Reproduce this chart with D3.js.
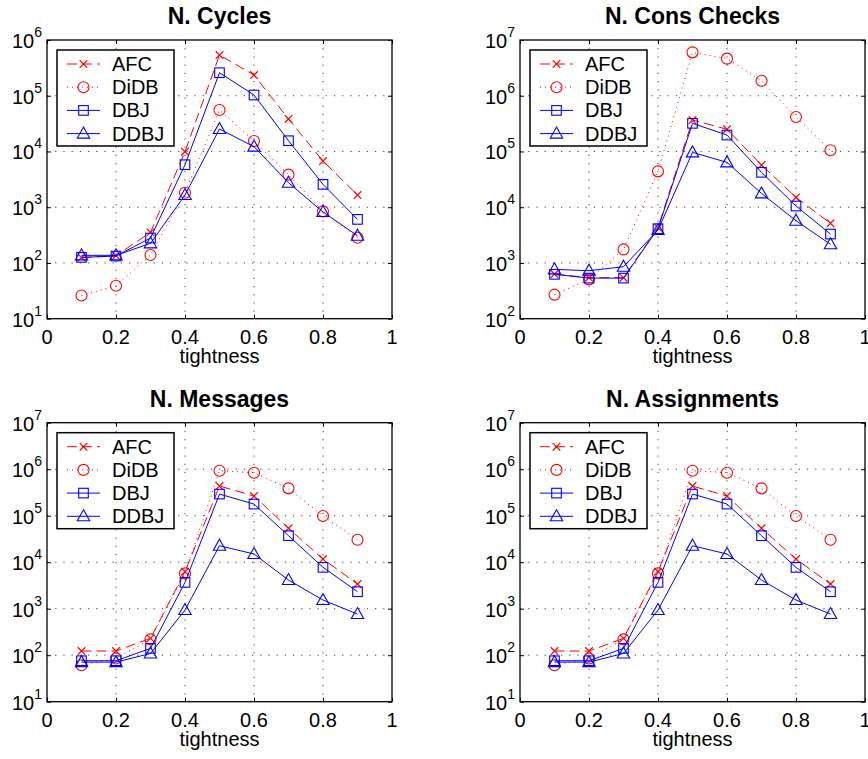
<!DOCTYPE html>
<html>
<head>
<meta charset="utf-8">
<script src="https://cdn.jsdelivr.net/npm/d3@7"></script>
<style>
  body { margin: 0; background: #fff; }
  text { font-family: "Liberation Sans", Arial, Helvetica, sans-serif; fill: #000; }
</style>
</head>
<body>
<svg id="chart" width="868" height="759"></svg>
<script>
// x values (tightness) shared by all panels
var tightness = [0.1, 0.2, 0.3, 0.4, 0.5, 0.6, 0.7, 0.8, 0.9];
var xTicks = [0, 0.2, 0.4, 0.6, 0.8, 1];
var seriesNames = ["AFC", "DiDB", "DBJ", "DDBJ"];

// N. Cycles
var cyclesAFC  = [125, 135, 354, 9900, 538000, 235000, 38300, 6740, 1655];
var cyclesDiDB = [26, 39, 139, 1820, 55500, 15400, 3840, 843, 284];
var cyclesDBJ  = [126, 133, 280, 5790, 259000, 103000, 15600, 2570, 605];
var cyclesDDBJ = [137, 137, 225, 1655, 25300, 12200, 2750, 820, 308];

// N. Cons Checks
var consAFC  = [632, 545, 545, 4300, 367000, 250000, 57100, 15000, 5140];
var consDiDB = [270, 508, 1750, 44000, 6000000, 4630000, 1860000, 415000, 105000];
var consDBJ  = [625, 535, 535, 4120, 320000, 197000, 42300, 10500, 3300];
var consDDBJ = [768, 726, 857, 3900, 96400, 63800, 17700, 5730, 2160];

// N. Messages
var msgAFC  = [123, 123, 230, 6250, 434000, 265000, 53500, 11700, 3390];
var msgDiDB = [61, 85, 219, 5750, 929000, 841000, 387000, 98400, 30500];
var msgDBJ  = [76, 76, 140, 3680, 292000, 178000, 37200, 7740, 2320];
var msgDDBJ = [71, 71, 109, 935, 22600, 15000, 4130, 1535, 767];

// N. Assignments
var asgAFC  = [123, 123, 230, 6250, 434000, 265000, 53500, 11700, 3390];
var asgDiDB = [61, 85, 219, 5750, 929000, 841000, 387000, 98400, 30500];
var asgDBJ  = [76, 76, 140, 3680, 292000, 178000, 37200, 7740, 2320];
var asgDDBJ = [71, 71, 109, 935, 22600, 15000, 4130, 1535, 767];

var panels = [
  { title: "N. Cycles",      lo: 1, hi: 6, values: [cyclesAFC, cyclesDiDB, cyclesDBJ, cyclesDDBJ] },
  { title: "N. Cons Checks", lo: 2, hi: 7, values: [consAFC, consDiDB, consDBJ, consDDBJ] },
  { title: "N. Messages",    lo: 1, hi: 7, values: [msgAFC, msgDiDB, msgDBJ, msgDDBJ] },
  { title: "N. Assignments", lo: 1, hi: 7, values: [asgAFC, asgDiDB, asgDBJ, asgDDBJ] }
];

// axes boxes in page pixels
var frames = [
  { left: 47,  top: 40,    width: 345, height: 278.7 },
  { left: 520, top: 40,    width: 345, height: 278.7 },
  { left: 47,  top: 422.7, width: 345, height: 279 },
  { left: 520, top: 422.7, width: 345, height: 279 }
];

var styles = [
  { color: "#ff0000", dash: "10,5", marker: "x" },
  { color: "#ff0000", dash: "1,4",  marker: "circle" },
  { color: "#0000ff", dash: null,   marker: "square" },
  { color: "#0000ff", dash: null,   marker: "triangle" }
];

var svg = d3.select("#chart");
svg.append("rect").attr("width", 868).attr("height", 759).attr("fill", "#fff");

function drawMarker(g, kind, cx, cy, color) {
  if (kind == "x") {
    var s = 3.8;
    g.append("path")
      .attr("d", "M" + (cx - s) + "," + (cy - s) + "L" + (cx + s) + "," + (cy + s) +
                 "M" + (cx - s) + "," + (cy + s) + "L" + (cx + s) + "," + (cy - s))
      .attr("stroke", color).attr("stroke-width", 1.2).attr("fill", "none");
  } else if (kind == "circle") {
    g.append("circle").attr("cx", cx).attr("cy", cy).attr("r", 5.5)
      .attr("stroke", color).attr("stroke-width", 1.1).attr("fill", "none");
  } else if (kind == "square") {
    g.append("rect").attr("x", cx - 4.8).attr("y", cy - 4.8).attr("width", 9.6).attr("height", 9.6)
      .attr("stroke", color).attr("stroke-width", 1.1).attr("fill", "none");
  } else {
    g.append("path")
      .attr("d", "M" + cx + "," + (cy - 6.5) + "L" + (cx + 6.2) + "," + (cy + 4.5) +
                 "L" + (cx - 6.2) + "," + (cy + 4.5) + "Z")
      .attr("stroke", color).attr("stroke-width", 1.1).attr("fill", "none");
  }
}

function drawPanel(p, f) {
  var g = svg.append("g");
  var x = d3.scaleLinear().domain([0, 1]).range([f.left, f.left + f.width]);
  var y = d3.scaleLog().domain([Math.pow(10, p.lo), Math.pow(10, p.hi)])
            .range([f.top + f.height, f.top]);
  var decades = d3.range(p.lo, p.hi + 1).map(function (e) { return Math.pow(10, e); });

  // dotted grid
  g.selectAll(".gx").data(xTicks.slice(1, -1)).enter().append("line")
    .attr("x1", function (d) { return x(d); }).attr("x2", function (d) { return x(d); })
    .attr("y1", f.top).attr("y2", f.top + f.height)
    .attr("stroke", "#444").attr("stroke-width", 1).attr("stroke-dasharray", "1.2,7");
  g.selectAll(".gy").data(decades.slice(1, -1)).enter().append("line")
    .attr("x1", f.left).attr("x2", f.left + f.width)
    .attr("y1", function (d) { return y(d); }).attr("y2", function (d) { return y(d); })
    .attr("stroke", "#444").attr("stroke-width", 1).attr("stroke-dasharray", "1.2,7");

  // inward ticks on all four sides
  var axes = [
    { ax: d3.axisBottom(x).tickValues(xTicks), t: "translate(0," + (f.top + f.height) + ")" },
    { ax: d3.axisTop(x).tickValues(xTicks),    t: "translate(0," + f.top + ")" },
    { ax: d3.axisLeft(y).tickValues(decades),  t: "translate(" + f.left + ",0)" },
    { ax: d3.axisRight(y).tickValues(decades), t: "translate(" + (f.left + f.width) + ",0)" }
  ];
  axes.forEach(function (a) {
    var ag = g.append("g").attr("transform", a.t)
      .call(a.ax.tickSize(-4).tickFormat(""));
    ag.select(".domain").remove();
    ag.selectAll("line").attr("stroke", "#000");
  });

  // frame
  g.append("rect").attr("x", f.left).attr("y", f.top).attr("width", f.width).attr("height", f.height)
    .attr("fill", "none").attr("stroke", "#000").attr("stroke-width", 1.3);

  // x tick labels
  g.selectAll(".xl").data(xTicks).enter().append("text")
    .attr("x", function (d) { return x(d); })
    .attr("y", f.top + f.height + 25)
    .attr("text-anchor", "middle").attr("font-size", 20)
    .text(function (d) { return d; });

  // y tick labels 10^n
  g.selectAll(".yl").data(d3.range(p.lo, p.hi + 1)).enter().append("text")
    .attr("x", f.left - 5)
    .attr("y", function (d) { return y(Math.pow(10, d)) + 8; })
    .attr("text-anchor", "end").attr("font-size", 20)
    .each(function (d) {
      var t = d3.select(this);
      t.append("tspan").text("10");
      t.append("tspan").attr("dy", -11).attr("font-size", 14).text(d);
    });

  // x label and title
  g.append("text").attr("x", f.left + f.width / 2).attr("y", f.top + f.height + 44)
    .attr("text-anchor", "middle").attr("font-size", 20).text("tightness");
  g.append("text").attr("x", f.left + f.width / 2).attr("y", f.top - 16)
    .attr("text-anchor", "middle").attr("font-size", 23).attr("font-weight", "bold")
    .text(p.title);

  // series
  var line = d3.line()
    .x(function (d) { return x(d[0]); })
    .y(function (d) { return y(d[1]); });
  p.values.forEach(function (vals, i) {
    var st = styles[i];
    var pts = tightness.map(function (t, k) { return [t, vals[k]]; });
    g.append("path").datum(pts).attr("d", line)
      .attr("fill", "none").attr("stroke", st.color).attr("stroke-width", 1)
      .attr("stroke-dasharray", st.dash);
    pts.forEach(function (d) { drawMarker(g, st.marker, x(d[0]), y(d[1]), st.color); });
  });

  // legend
  var lx = f.left + 10, ly = f.top + 10;
  g.append("rect").attr("x", lx).attr("y", ly).attr("width", 117).attr("height", 96)
    .attr("fill", "#fff").attr("stroke", "#000").attr("stroke-width", 1.5);
  seriesNames.forEach(function (name, i) {
    var st = styles[i];
    var yy = ly + 14 + i * 23.2;
    g.append("line").attr("x1", lx + 10).attr("x2", lx + 43).attr("y1", yy).attr("y2", yy)
      .attr("stroke", st.color).attr("stroke-width", 1).attr("stroke-dasharray", st.dash);
    drawMarker(g, st.marker, lx + 26.5, yy, st.color);
    g.append("text").attr("x", lx + 55).attr("y", yy + 7).attr("font-size", 20).text(name);
  });
}

panels.forEach(function (p, i) { drawPanel(p, frames[i]); });
</script>
</body>
</html>
